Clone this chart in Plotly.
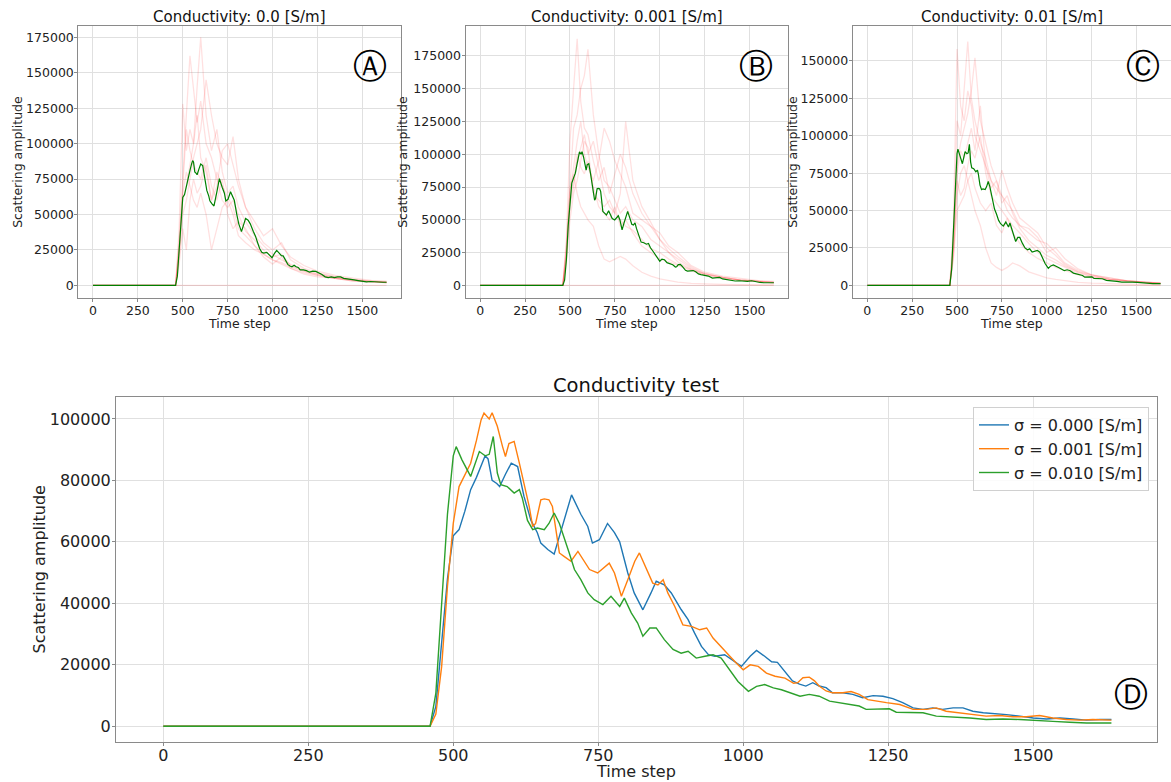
import plotly.graph_objects as go

# ---------------- data (values in units of 1000) ----------------
# Mean curves (also shown as green lines in the top panels)
T_S0 = [0, 460, 470, 480, 490, 500, 510, 520, 530, 540, 550, 555, 560, 567, 575, 580, 590, 600, 611, 622,
        634, 645, 651, 663, 674, 690, 704, 720, 732, 740, 752, 766, 778, 787, 801, 812, 827, 841, 850, 864,
        876, 893, 905, 916, 928, 940, 951, 968, 986, 997, 1012, 1023, 1037, 1049, 1059, 1074, 1085, 1097, 1108, 1120,
        1131, 1143, 1154, 1172, 1189, 1206, 1224, 1241, 1258, 1275, 1293, 1310, 1327, 1344, 1362, 1379, 1396, 1414, 1431, 1454,
        1477, 1500, 1523, 1546, 1569, 1592, 1615, 1635]
V_S0 = [0, 0, 6.5, 26, 48, 62, 64, 70, 77, 81, 86, 88, 87, 80, 79, 78, 82, 85.6, 84.5, 74.8,
        67, 63, 59.6, 57.5, 56, 66, 75.3, 69, 65, 59.6, 60.7, 66, 63, 60, 49.9, 43.4, 37.9, 43.4, 47.2, 46,
        43.4, 38, 34.7, 30.4, 26, 23.3, 22.8, 23.3, 21.1, 19.5, 22.8, 24.7, 22.8, 21, 20.8, 17.5, 14.8, 13.7, 13.1, 14.2,
        13.1, 12.6, 10.9, 10.9, 10.4, 9.3, 10, 9.8, 9, 7.7, 6, 5.5, 6, 5.5, 6, 6, 4.9, 4.4, 4.2, 3.8,
        3.3, 2.7, 2.4, 2.7, 2.4, 2, 2.2, 2.2]

T_S1 = [0, 460, 470, 480, 490, 500, 510, 520, 530, 540, 548, 553, 562, 567, 576, 585, 590, 596, 605, 614,
        622, 631, 637, 642, 651, 657, 665, 671, 677, 683, 691, 703, 715, 723, 735, 749, 761, 769, 778, 790,
        801, 813, 821, 833, 844, 853, 862, 870, 882, 896, 911, 925, 937, 948, 962, 977, 988, 1000, 1012, 1026,
        1040, 1055, 1072, 1087, 1094, 1103, 1114, 1123, 1131, 1143, 1154, 1172, 1186, 1200, 1215, 1229, 1247, 1270, 1293, 1316,
        1333, 1350, 1373, 1396, 1419, 1442, 1465, 1488, 1511, 1534, 1557, 1580, 1603, 1635]
V_S1 = [0, 0, 4, 19.5, 45.5, 66, 78, 82, 85.6, 93, 99.7, 101.9, 100, 102, 97.6, 91, 87.8, 92, 92.7, 85.6,
        79, 71.5, 65, 66, 73.7, 74, 73.7, 71.5, 64, 56.4, 55.3, 53.7, 56.9, 54.7, 51, 49.9, 52, 53.1, 49.9, 42.3,
        47.7, 53.7, 56.4, 51.5, 46.6, 46, 47.7, 43.4, 39, 33, 32.5, 31.4, 32, 28.7, 26, 22.8, 20.6, 18.4, 20, 19.5,
        17.3, 16.3, 15.7, 14, 14.2, 15.8, 16, 14.8, 13.1, 11.5, 10.9, 10.9, 11.3, 10.4, 8.7, 8.2, 7.7, 7.1, 5.5, 5.5,
        6, 4.9, 4.4, 3.8, 3.3, 3.5, 3.1, 3.1, 3.5, 2.7, 2.2, 2, 2.2, 2]

T_S2 = [0, 460, 470, 480, 490, 500, 505, 515, 525, 530, 545, 555, 562, 569, 576, 582, 593, 605, 614, 619,
        628, 637, 645, 657, 665, 674, 683, 691, 700, 709, 720, 732, 743, 758, 772, 787, 795, 807, 818, 827,
        839, 850, 864, 879, 893, 905, 919, 934, 948, 962, 977, 991, 1009, 1023, 1037, 1052, 1066, 1084, 1098, 1114,
        1131, 1149, 1166, 1183, 1200, 1212, 1235, 1252, 1264, 1287, 1310, 1333, 1362, 1391, 1419, 1448, 1477, 1506, 1534, 1563,
        1592, 1635]
V_S2 = [0, 0, 10.8, 39, 69, 88, 91, 86.7, 83, 81.3, 89.4, 88, 88.5, 94.3, 82.4, 78.6, 78, 75.9, 77, 74.3,
        67, 64, 64.5, 64, 66, 69.4, 66, 61.8, 56.4, 51, 47.7, 43.4, 41.2, 39.6, 42.3, 39, 41.7, 36.9, 33.6, 29.3,
        32, 32, 28.2, 25, 23.8, 24.4, 22.2, 22.8, 23.3, 22.2, 18.4, 14.6, 11.4, 13, 13.6, 12.5, 11.9, 10.8, 9.8, 10.4,
        9.8, 8.2, 7.7, 7.1, 6.6, 5.5, 5.5, 5.7, 4.6, 4.6, 4.4, 3.3, 3.1, 2.7, 2.2, 2.4, 2.2, 2, 1.6, 1.3,
        1.1, 1.1]

# Individual realisations (faint red lines), sampled on a common time grid
T_REAL = [0, 460, 480, 500, 520, 540, 560, 580, 600, 630, 660, 690, 720, 750, 780, 810, 850, 900, 950, 1000,
          1050, 1100, 1175, 1250, 1350, 1450, 1550, 1635]

REAL_A = [
    [0, 0, 40, 128, 95, 110, 100, 120, 90, 80, 60, 70, 95, 100, 85, 70, 55, 40, 30, 25, 30, 18, 12, 9, 6, 4, 3, 2.5],
    [0, 0, 30, 80, 120, 162, 140, 115, 130, 100, 90, 75, 60, 55, 60, 50, 38, 32, 25, 20, 22, 14, 10, 8, 5, 3.5, 2.5, 2],
    [0, 0, 25, 60, 70, 85, 100, 140, 175, 120, 95, 110, 80, 65, 70, 55, 45, 35, 28, 22, 18, 15, 11, 8, 6, 4, 3, 2],
    [0, 0, 20, 50, 60, 75, 90, 100, 110, 145, 120, 100, 90, 85, 105, 75, 55, 45, 35, 40, 28, 20, 14, 10, 7, 5, 3.5, 3],
    [0, 0, 22, 65, 80, 70, 60, 55, 65, 50, 25, 40, 55, 60, 50, 35, 30, 25, 22, 18, 15, 12, 9, 7, 5, 3, 2.5, 2],
    [0, 0, 28, 70, 110, 95, 85, 80, 75, 90, 70, 60, 75, 50, 40, 45, 40, 28, 20, 15, 20, 12, 8, 6, 5, 3, 2.5, 2],
    [0, 0, 15, 40, 25, 60, 75, 65, 70, 85, 60, 80, 70, 62, 55, 40, 35, 28, 22, 18, 16, 13, 10, 7, 5, 3.5, 2.5, 2],
    [0, 0, 0, 0, 0, 0, 0, 0, 0, 0, 0, 0, 0, 0, 0, 0, 0, 0, 0, 0, 0, 0, 0, 0, 0, 0, 0, 0],
]
REAL_B = [
    [0, 0, 35, 110, 150, 188, 140, 120, 115, 95, 80, 90, 70, 85, 100, 90, 70, 55, 45, 35, 28, 22, 14, 9, 6, 4, 3, 2.5],
    [0, 0, 30, 80, 120, 130, 150, 160, 180, 130, 100, 80, 75, 65, 55, 60, 50, 45, 35, 30, 25, 18, 12, 9, 6, 4, 3, 2],
    [0, 0, 25, 70, 90, 110, 125, 100, 90, 80, 95, 120, 110, 95, 85, 75, 55, 50, 45, 40, 30, 25, 15, 10, 7, 5, 3.5, 3],
    [0, 0, 20, 60, 75, 95, 105, 115, 100, 110, 90, 70, 60, 55, 70, 125, 80, 60, 48, 35, 25, 20, 13, 9, 6, 4, 3, 2.5],
    [0, 0, 28, 75, 85, 70, 60, 55, 50, 45, 30, 20, 18, 20, 22, 20, 15, 10, 7, 5, 3.5, 2.5, 1.5, 1, 0.8, 0.5, 0.4, 0.3],
    [0, 0, 22, 65, 80, 100, 90, 85, 95, 75, 60, 55, 50, 60, 45, 50, 40, 30, 25, 20, 18, 15, 11, 8, 5, 4, 3, 2],
    [0, 0, 18, 50, 70, 80, 95, 110, 105, 70, 65, 60, 65, 55, 50, 45, 42, 35, 28, 25, 20, 16, 12, 8, 6, 4, 3, 2],
    [0, 0, 0, 0, 0, 0, 0, 0, 0, 0, 0, 0, 0, 0, 0, 0, 0, 0, 0, 0, 0, 0, 0, 0, 0, 0, 0, 0],
]
REAL_C = [
    [0, 0, 40, 158, 120, 110, 130, 120, 100, 90, 80, 70, 65, 60, 55, 50, 40, 35, 30, 28, 22, 15, 10, 7, 5, 3, 2, 1.5],
    [0, 0, 30, 110, 100, 130, 163, 125, 110, 95, 85, 70, 60, 77, 65, 55, 45, 40, 35, 25, 20, 14, 9, 7, 4, 3, 2, 1.5],
    [0, 0, 25, 80, 95, 105, 115, 130, 152, 110, 95, 80, 70, 60, 50, 45, 40, 38, 32, 22, 25, 18, 11, 7, 5, 3, 2, 1.5],
    [0, 0, 20, 60, 75, 80, 70, 60, 50, 40, 25, 15, 12, 10, 12, 15, 13, 9, 7, 5, 4, 3, 2, 1.5, 1, 0.8, 0.5, 0.4],
    [0, 0, 28, 70, 60, 65, 80, 90, 85, 100, 75, 60, 55, 50, 45, 40, 35, 28, 22, 18, 15, 12, 8, 6, 4, 3, 2, 1.5],
    [0, 0, 18, 50, 55, 60, 70, 75, 65, 55, 50, 55, 40, 35, 45, 35, 28, 22, 18, 15, 12, 10, 7, 5, 4, 2.5, 2, 1.2],
    [0, 0, 22, 75, 90, 85, 95, 105, 90, 120, 80, 65, 70, 55, 60, 48, 38, 30, 25, 20, 17, 13, 9, 6, 4, 3, 2, 1.5],
    [0, 0, 0, 0, 0, 0, 0, 0, 0, 0, 0, 0, 0, 0, 0, 0, 0, 0, 0, 0, 0, 0, 0, 0, 0, 0, 0, 0],
]

PANEL_TITLES = ["Conductivity: 0.0 [S/m]", "Conductivity: 0.001 [S/m]", "Conductivity: 0.01 [S/m]"]
MAIN_TITLE = "Conductivity test"
LEGEND_NAMES = ["σ = 0.000 [S/m]", "σ = 0.001 [S/m]", "σ = 0.010 [S/m]"]
PANEL_LETTERS = ["Ⓐ", "Ⓑ", "Ⓒ", "Ⓓ"]
X_LABEL = "Time step"
Y_LABEL = "Scattering amplitude"
X_TICKS = [0, 250, 500, 750, 1000, 1250, 1500]
Y_TICKS_AB = [0, 25000, 50000, 75000, 100000, 125000, 150000, 175000]
Y_TICKS_C = [0, 25000, 50000, 75000, 100000, 125000, 150000]
Y_TICKS_D = [0, 20000, 40000, 60000, 80000, 100000]

# ---------------- styling ----------------
FONT = "DejaVu Sans"
W, H = 1171, 782
GRID = "#e0e0e0"
SPINE = "#8a8a8a"
TXT = "#222"
TAB = ["#1f77b4", "#ff7f0e", "#2ca02c"]
MEAN_GREEN = "#008000"
PINK = "rgba(255,0,0,0.12)"

k = lambda arr: [v * 1000 for v in arr]

fig = go.Figure()

series_t = [T_S0, T_S1, T_S2]
series_v = [V_S0, V_S1, V_S2]
reals = [REAL_A, REAL_B, REAL_C]

for i in range(3):
    ax = "" if i == 0 else str(i + 1)
    for r in reals[i]:
        fig.add_trace(go.Scatter(x=T_REAL, y=k(r), mode="lines", line=dict(color=PINK, width=1.3),
                                 showlegend=False, hoverinfo="skip", xaxis="x" + ax, yaxis="y" + ax))
    fig.add_trace(go.Scatter(x=series_t[i], y=k(series_v[i]), mode="lines",
                             line=dict(color=MEAN_GREEN, width=1.2), showlegend=False,
                             xaxis="x" + ax, yaxis="y" + ax))

for i in range(3):
    fig.add_trace(go.Scatter(x=series_t[i], y=k(series_v[i]), mode="lines", name=LEGEND_NAMES[i],
                             line=dict(color=TAB[i], width=1.4), xaxis="x4", yaxis="y4"))

# ---------------- axes ----------------
def xax(domain, anchor, rng, fs, standoff):
    return dict(domain=domain, anchor=anchor, range=rng, tickvals=X_TICKS, tickformat="d",
                showgrid=True, gridcolor=GRID, gridwidth=1, zeroline=False,
                showline=True, mirror=True, linecolor=SPINE, linewidth=1,
                ticks="outside", ticklen=3, tickcolor=SPINE, ticklabelstandoff=standoff,
                tickfont=dict(family=FONT, size=fs, color=TXT))

def yax(domain, anchor, rng, ticks, fs):
    return dict(domain=domain, anchor=anchor, range=rng, tickvals=ticks, tickformat="d",
                showgrid=True, gridcolor=GRID, gridwidth=1, zeroline=False,
                showline=True, mirror=True, linecolor=SPINE, linewidth=1,
                ticks="outside", ticklen=3, tickcolor=SPINE, ticklabelstandoff=-2,
                tickfont=dict(family=FONT, size=fs, color=TXT))

top_y = [1 - 297.7 / H, 1 - 26 / H]
dA = [78.3 / W, 400.7 / W]
dB = [465.5 / W, 788.0 / W]
dC = [852.7 / W, 1.0]
dD = [116 / W, 1157 / W]
bot_y = [1 - 742 / H, 1 - 397 / H]

fig.update_layout(
    xaxis=xax(dA, "y", [-81.6, 1713.6], 12.5, -2),
    yaxis=yax(top_y, "x", [-8712, 182962], Y_TICKS_AB, 12.5),
    xaxis2=xax(dB, "y2", [-81.6, 1713.6], 12.5, -2),
    yaxis2=yax(top_y, "x2", [-9420, 197830], Y_TICKS_AB, 12.5),
    xaxis3=xax(dC, "y3", [-81.6, 1693], 12.5, -2),
    yaxis3=yax(top_y, "x3", [-8254, 173333], Y_TICKS_C, 12.5),
    xaxis4=xax(dD, "y4", [-81.6, 1713.6], 16, -4),
    yaxis4=yax(bot_y, "x4", [-5102, 107140], Y_TICKS_D, 16),
)

ann = []
for i, d in enumerate([dA, dB, dC]):
    ann.append(dict(text=PANEL_TITLES[i], xref="paper", yref="paper", x=(d[0] + d[1]) / 2, y=1 - 17 / H,
                    xanchor="center", yanchor="middle", showarrow=False,
                    font=dict(family=FONT, size=15, color="#111")))
    ann.append(dict(text=X_LABEL, xref="paper", yref="paper", x=(d[0] + d[1]) / 2, y=1 - 315 / H,
                    xanchor="center", yanchor="top", showarrow=False, borderpad=0,
                    font=dict(family=FONT, size=12.5, color=TXT)))
for px in (18, 403, 793):
    ann.append(dict(text=Y_LABEL, xref="paper", yref="paper", x=px / W, y=(top_y[0] + top_y[1]) / 2,
                    xanchor="center", yanchor="middle", textangle=-90, showarrow=False,
                    font=dict(family=FONT, size=12.5, color=TXT)))
ann.append(dict(text=MAIN_TITLE, xref="paper", yref="paper", x=(dD[0] + dD[1]) / 2, y=1 - 386 / H,
                xanchor="center", yanchor="middle", showarrow=False,
                font=dict(family=FONT, size=19.5, color="#111")))
ann.append(dict(text=X_LABEL, xref="paper", yref="paper", x=(dD[0] + dD[1]) / 2, y=1 - 771 / H,
                xanchor="center", yanchor="middle", showarrow=False,
                font=dict(family=FONT, size=16, color=TXT)))
ann.append(dict(text=Y_LABEL, xref="paper", yref="paper", x=39 / W, y=(bot_y[0] + bot_y[1]) / 2,
                xanchor="center", yanchor="middle", textangle=-90, showarrow=False,
                font=dict(family=FONT, size=16, color=TXT)))

letter_pos = [(370, 66), (756, 66), (1143, 66), (1131, 694)]
for i, (px, py) in enumerate(letter_pos):
    ann.append(dict(text=PANEL_LETTERS[i], xref="paper", yref="paper", x=px / W, y=1 - py / H,
                    xanchor="center", yanchor="middle", showarrow=False,
                    font=dict(family=FONT, size=34, color="#000")))

fig.update_layout(
    width=W, height=H, margin=dict(l=0, r=0, t=0, b=0),
    paper_bgcolor="white", plot_bgcolor="white",
    annotations=ann,
    legend=dict(x=1149 / W, y=1 - 407 / H, xanchor="right", yanchor="top",
                bgcolor="rgba(255,255,255,0.85)", bordercolor="#d0d0d0", borderwidth=1,
                font=dict(family=FONT, size=16, color=TXT), tracegroupgap=0),
    font=dict(family=FONT),
)

fig.write_html("out.html")
